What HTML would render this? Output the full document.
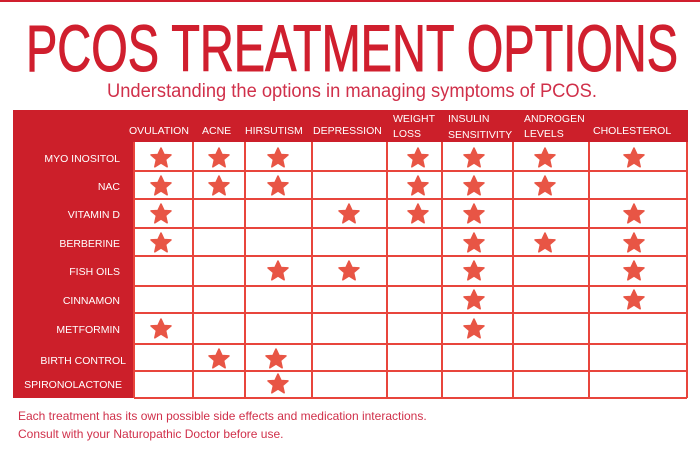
<!DOCTYPE html><html><head><meta charset="utf-8"><style>body{margin:0;background:#fff}</style></head><body>
<svg width="700" height="464" xmlns="http://www.w3.org/2000/svg" font-family="Liberation Sans, sans-serif">
<rect x="0" y="0" width="700" height="2" fill="#d01f2e"/>
<text x="352" y="71" text-anchor="middle" font-size="66" fill="#d01f2e" stroke="#d01f2e" stroke-width="1" textLength="652" lengthAdjust="spacingAndGlyphs">PCOS TREATMENT OPTIONS</text>
<text x="352" y="97" text-anchor="middle" font-size="19" fill="#d0304a" textLength="490" lengthAdjust="spacingAndGlyphs">Understanding the options in managing symptoms of PCOS.</text>
<rect x="13" y="110" width="675" height="32" fill="#cc1f2a"/>
<rect x="13" y="110" width="121" height="288" fill="#cc1f2a"/>
<rect x="134" y="142" width="553" height="256" fill="#fff"/>
<g stroke="#e8453c" stroke-width="2" fill="none">
<path d="M134 171H687M134 199H687M134 228H687M134 256H687M134 286H687M134 313H687M134 344H687M134 371H687M134 398H687"/>
<path d="M134 142V398M193 142V398M245 142V398M312 142V398M387 142V398M442 142V398M513 142V398M589 142V398M687 142V398"/>
</g>
<g fill="#fff" font-size="10.5">
<text x="129" y="134">OVULATION</text>
<text x="202" y="134">ACNE</text>
<text x="245" y="134">HIRSUTISM</text>
<text x="313" y="134">DEPRESSION</text>
<text x="393" y="122">WEIGHT</text><text x="393" y="137">LOSS</text>
<text x="448" y="122">INSULIN</text><text x="448" y="138">SENSITIVITY</text>
<text x="524" y="122">ANDROGEN</text><text x="524" y="137">LEVELS</text>
<text x="593" y="134">CHOLESTEROL</text>
</g>
<g fill="#fff" font-size="10.5" text-anchor="end">
<text x="120" y="162">MYO INOSITOL</text>
<text x="120" y="190">NAC</text>
<text x="120" y="218">VITAMIN D</text>
<text x="120" y="247">BERBERINE</text>
<text x="120" y="275">FISH OILS</text>
<text x="120" y="304">CINNAMON</text>
<text x="120" y="333">METFORMIN</text>
<text x="126" y="364">BIRTH CONTROL</text>
<text x="122" y="388">SPIRONOLACTONE</text>
</g>
<defs><path id="s" d="M0,-10 L3,-3.5 L10,-3.1 L4.6,1.6 L6.2,8.8 L0,5 L-6.2,8.8 L-4.6,1.6 L-10,-3.1 L-3,-3.5Z" fill="#e85545" stroke="#e85545" stroke-width="1.5" stroke-linejoin="round"/></defs>
<g>
<use href="#s" x="161" y="158"/><use href="#s" x="219" y="158"/><use href="#s" x="278" y="158"/><use href="#s" x="418" y="158"/><use href="#s" x="474" y="158"/><use href="#s" x="545" y="158"/><use href="#s" x="634" y="158"/>
<use href="#s" x="161" y="186"/><use href="#s" x="219" y="186"/><use href="#s" x="278" y="186"/><use href="#s" x="418" y="186"/><use href="#s" x="474" y="186"/><use href="#s" x="545" y="186"/>
<use href="#s" x="161" y="214"/><use href="#s" x="349" y="214"/><use href="#s" x="418" y="214"/><use href="#s" x="474" y="214"/><use href="#s" x="634" y="214"/>
<use href="#s" x="161" y="243"/><use href="#s" x="474" y="243"/><use href="#s" x="545" y="243"/><use href="#s" x="634" y="243"/>
<use href="#s" x="278" y="271"/><use href="#s" x="349" y="271"/><use href="#s" x="474" y="271"/><use href="#s" x="634" y="271"/>
<use href="#s" x="474" y="300"/><use href="#s" x="634" y="300"/>
<use href="#s" x="161" y="329"/><use href="#s" x="474" y="329"/>
<use href="#s" x="219" y="359"/><use href="#s" x="276" y="359"/>
<use href="#s" x="278" y="384"/>
</g>
<text x="18" y="420" font-size="12" fill="#d0304a">Each treatment has its own possible side effects and medication interactions.</text>
<text x="18" y="438" font-size="12" fill="#d0304a">Consult with your Naturopathic Doctor before use.</text>
</svg>
</body></html>
